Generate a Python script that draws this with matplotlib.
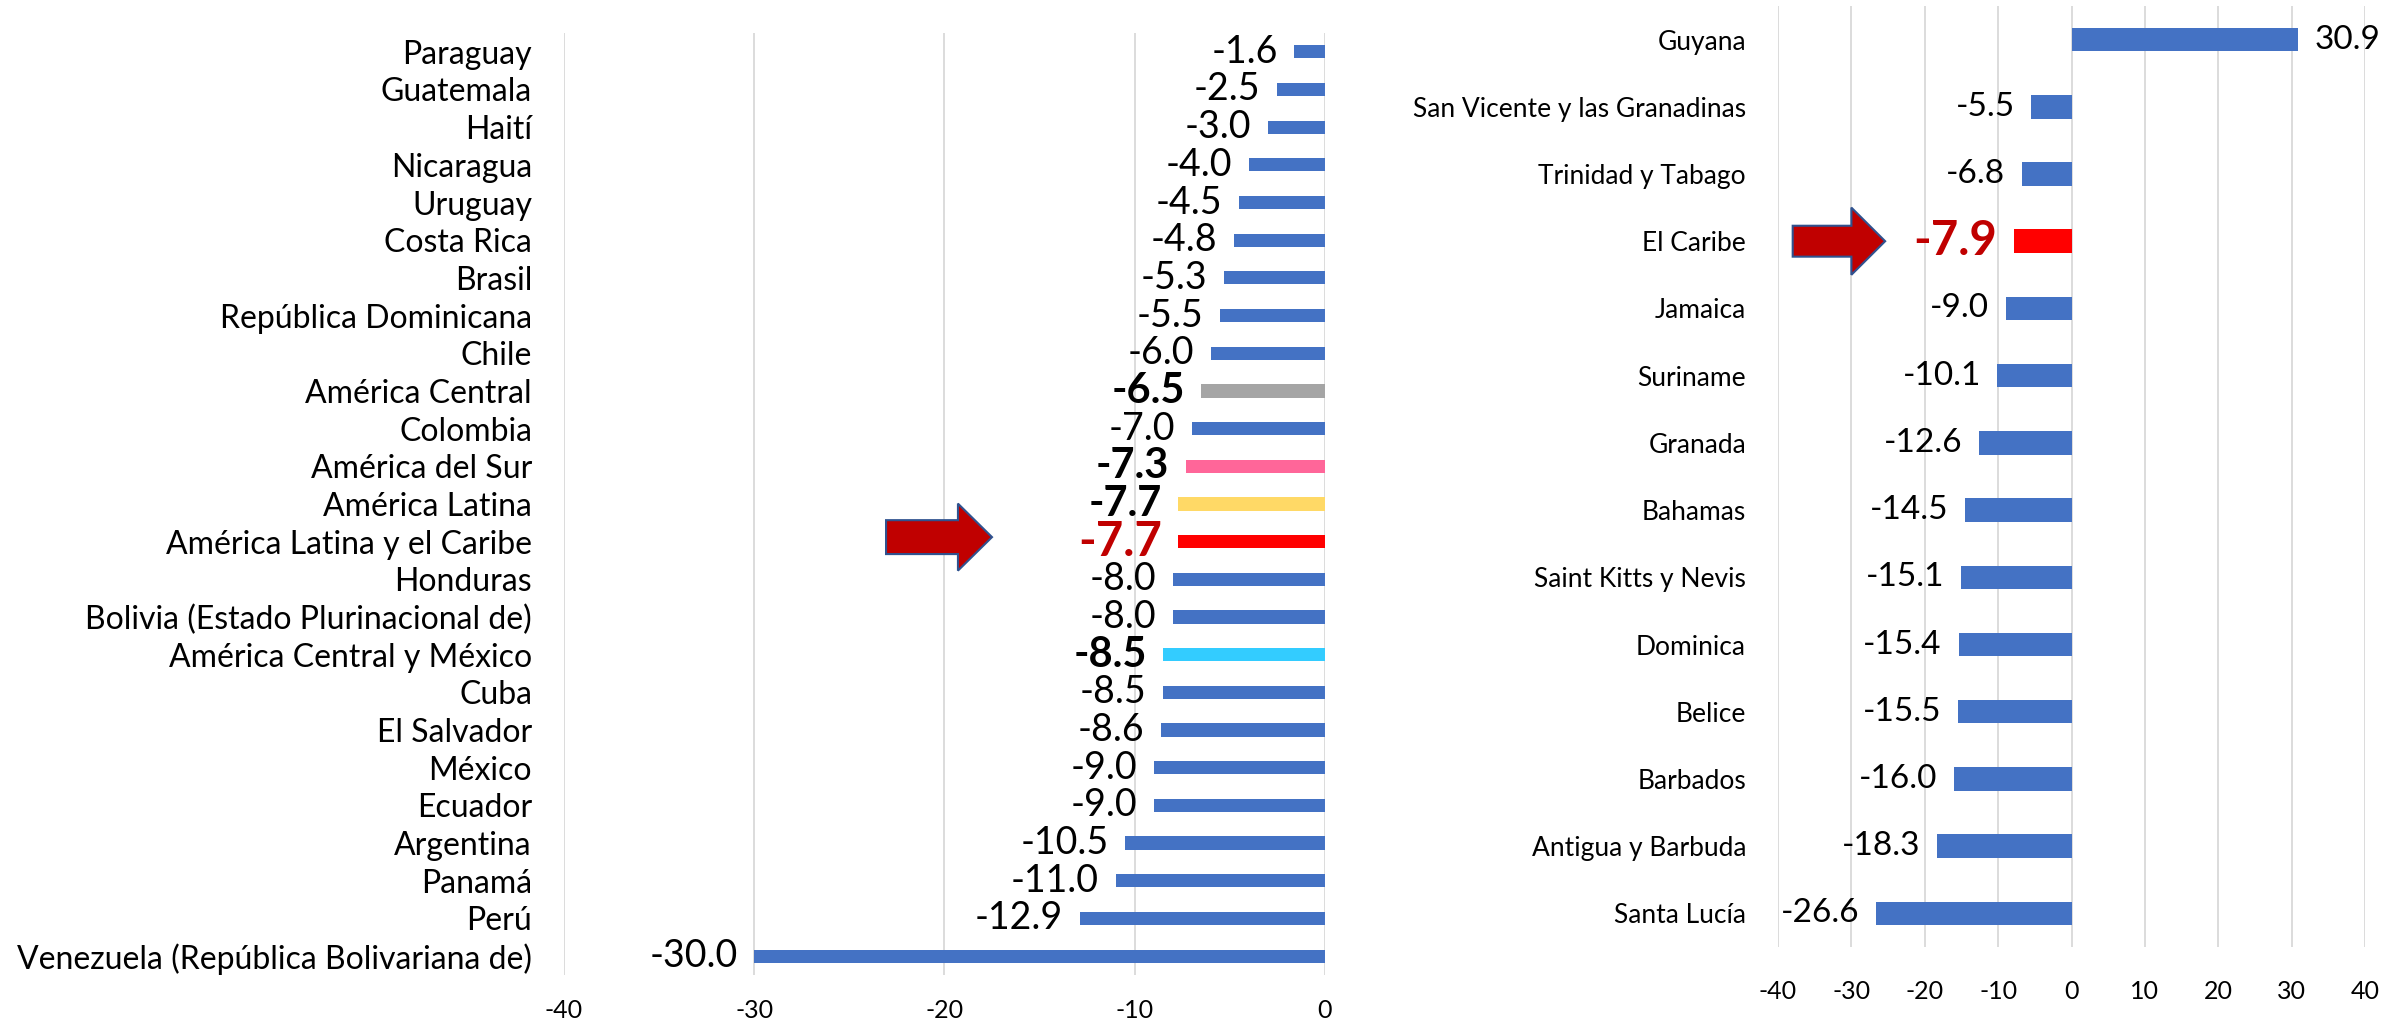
import matplotlib.pyplot as plt
import matplotlib.patches as mpatches

plt.rcParams['font.family'] = ['Lato', 'DejaVu Sans']

# Left panel: Latin America
left_names = ['Paraguay', 'Guatemala', 'Haití', 'Nicaragua', 'Uruguay', 'Costa Rica',
              'Brasil', 'República Dominicana', 'Chile', 'América Central', 'Colombia',
              'América del Sur', 'América Latina', 'América Latina y el Caribe', 'Honduras',
              'Bolivia (Estado Plurinacional de)', 'América Central y México', 'Cuba',
              'El Salvador', 'México', 'Ecuador', 'Argentina', 'Panamá', 'Perú',
              'Venezuela (República Bolivariana de)']
left_values = [-1.6, -2.5, -3.0, -4.0, -4.5, -4.8, -5.3, -5.5, -6.0, -6.5, -7.0, -7.3, -7.7,
               -7.7, -8.0, -8.0, -8.5, -8.5, -8.6, -9.0, -9.0, -10.5, -11.0, -12.9, -30.0]

# Right panel: the Caribbean
right_names = ['Guyana', 'San Vicente y las Granadinas', 'Trinidad y Tabago', 'El Caribe',
               'Jamaica', 'Suriname', 'Granada', 'Bahamas', 'Saint Kitts y Nevis', 'Dominica',
               'Belice', 'Barbados', 'Antigua y Barbuda', 'Santa Lucía']
right_values = [30.9, -5.5, -6.8, -7.9, -9.0, -10.1, -12.6, -14.5, -15.1, -15.4, -15.5,
                -16.0, -18.3, -26.6]

blue = '#4472C4'
dark_red = '#C00000'
# aggregates get their own colour and a bold label
highlight = {'América Central': '#A5A5A5',
             'América del Sur': '#FF6699',
             'América Latina': '#FFD966',
             'América Latina y el Caribe': '#FF0000',
             'América Central y México': '#33CCFF',
             'El Caribe': '#FF0000'}
red_rows = ['América Latina y el Caribe', 'El Caribe']

fig = plt.figure(figsize=(24.05, 10.24), dpi=100)
ax1 = fig.add_axes([0.2345, 0.0479, 0.3164, 0.9199])
ax2 = fig.add_axes([0.7393, 0.0752, 0.2441, 0.919])


def draw_panel(ax, names, values, xlim, ticks, label_size, value_size, bold_size, red_size,
               tick_size, xpad):
    ypos = list(range(len(names)))
    colors = [highlight.get(n, blue) for n in names]
    ax.barh(ypos, values, height=0.35, color=colors, zorder=3)
    ax.set_xlim(*xlim)
    ax.set_ylim(len(names) - 0.5, -0.5)
    ax.set_yticks(ypos)
    ax.set_yticklabels(names, fontsize=label_size)
    ax.set_xticks(ticks)
    ax.set_xticklabels([str(t) for t in ticks], fontsize=tick_size)
    ax.tick_params(axis='y', length=0, pad=23)
    ax.tick_params(axis='x', length=0, pad=xpad)
    ax.grid(axis='x', color='#D9D9D9', linewidth=1.3, zorder=0)
    for s in ax.spines.values():
        s.set_visible(False)

    for y, (n, v) in enumerate(zip(names, values)):
        off = 12 if v > 0 else -12
        ha = 'left' if v > 0 else 'right'
        if n in red_rows:
            kw = dict(fontsize=red_size, fontweight='bold', color=dark_red)
        elif n in highlight:
            kw = dict(fontsize=bold_size, fontweight='bold', color='black')
        else:
            kw = dict(fontsize=value_size, color='black')
        ax.annotate(f'{v:.1f}', xy=(v, y), xytext=(off, 0), textcoords='offset points',
                    ha=ha, va='center', **kw)


draw_panel(ax1, left_names, left_values, (-40, 0), [-40, -30, -20, -10, 0],
           23, 27, 30, 34, 18, 17)
draw_panel(ax2, right_names, right_values, (-40, 40), [-40, -30, -20, -10, 0, 10, 20, 30, 40],
           19, 24, 28, 34, 18, 24)

# arrows pointing at the regional totals
y1 = left_names.index('América Latina y el Caribe')
ax1.add_patch(mpatches.FancyArrow(-23.07, y1 - 0.12, 3.78, 0, width=0.9, head_width=1.78,
                                  head_length=1.79, length_includes_head=False,
                                  facecolor=dark_red, edgecolor='#2F528F', linewidth=1.5,
                                  zorder=4))
y2 = right_names.index('El Caribe')
ax2.add_patch(mpatches.FancyArrow(-38.0, y2, 8.0, 0, width=0.46, head_width=1.0,
                                  head_length=4.6, length_includes_head=False,
                                  facecolor=dark_red, edgecolor='#2F528F', linewidth=1.5,
                                  zorder=4))

plt.savefig('out.png', dpi=100)
